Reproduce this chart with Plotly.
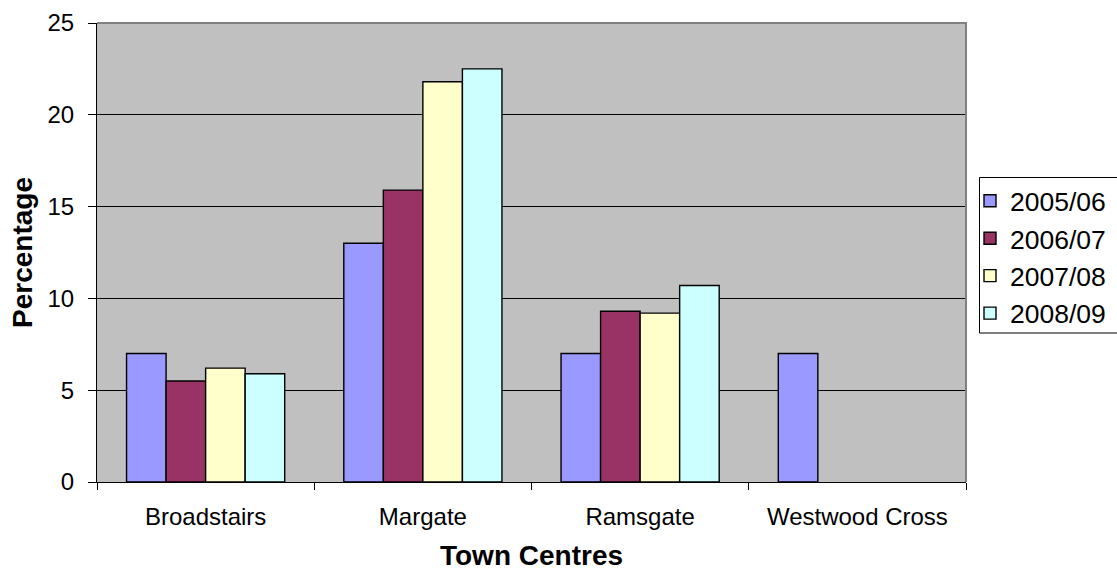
import plotly.graph_objects as go

# Town centre percentages by year
towns = ["Broadstairs", "Margate", "Ramsgate", "Westwood Cross"]
years = ["2005/06", "2006/07", "2007/08", "2008/09"]
v2005 = [7.0, 13.0, 7.0, 7.0]
v2006 = [5.5, 15.9, 9.3, None]
v2007 = [6.2, 21.8, 9.2, None]
v2008 = [5.9, 22.5, 10.7, None]
colors = ["#9999FF", "#993366", "#FFFFCC", "#CCFFFF"]

series = [v2005, v2006, v2007, v2008]

fig = go.Figure()
for name, vals, col in zip(years, series, colors):
    fig.add_trace(go.Bar(
        x=towns, y=vals, name=name,
        marker=dict(color=col, line=dict(color="black", width=1.4)),
    ))

FONT = "Liberation Sans, Arial, sans-serif"
W, H = 1117, 571
L, R, T, B = 97, 151, 23, 89

# legend frame (pixel coordinates converted to paper units)
px = lambda x: (x - L) / (W - L - R)
py = lambda y: (H - B - y) / (H - T - B)

fig.update_layout(
    width=W, height=H,
    margin=dict(l=L, r=R, t=T, b=B),
    barmode="group", bargap=0.272, bargroupgap=0,
    plot_bgcolor="#C0C0C0", paper_bgcolor="white",
    font=dict(family=FONT, color="black", size=24),
    showlegend=True,
    legend=dict(
        xref="container", yref="container",
        x=970 / W, y=1 - 177 / H, xanchor="left", yanchor="top",
        bgcolor="rgba(0,0,0,0)", borderwidth=0,
        font=dict(family=FONT, size=26.5, color="black"),
        tracegroupgap=0,
    ),
    xaxis=dict(
        type="category", automargin=False,
        showline=True, linecolor="black", linewidth=1,
        ticks="outside", tickson="boundaries", ticklen=7, tickcolor="black",
        ticklabelstandoff=13,
        showgrid=False,
        tickfont=dict(size=24),
        title=dict(text="<b>Town Centres</b>", font=dict(size=28), standoff=16),
    ),
    yaxis=dict(
        range=[0, 25], tickvals=[0, 5, 10, 15, 20, 25], automargin=False,
        showline=True, linecolor="black", linewidth=1,
        ticks="outside", ticklen=8, tickcolor="black",
        ticklabelstandoff=9,
        showgrid=True, gridcolor="black", gridwidth=1,
        zeroline=False,
        tickfont=dict(size=24),
        title=dict(text="<b>Percentage</b>", font=dict(size=28), standoff=6),
    ),
    shapes=[
        dict(type="path", xref="paper", yref="paper",
             path="M 0,1 L 1,1 L 1,0",
             line=dict(color="#808080", width=2), layer="above"),
        dict(type="rect", xref="paper", yref="paper",
             x0=px(979.5), x1=px(1125), y0=py(333), y1=py(177.5),
             line=dict(color="black", width=1), fillcolor="white", layer="below"),
    ],
)

fig.write_html("out.html")
